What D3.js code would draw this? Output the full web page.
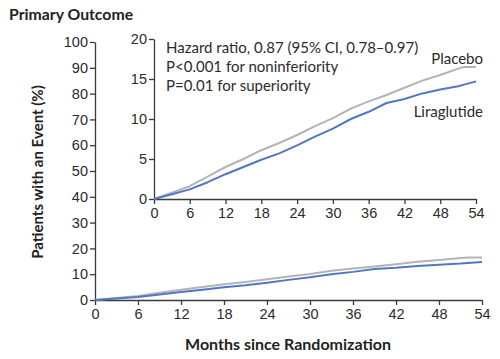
<!DOCTYPE html>
<html>
<head>
<meta charset="utf-8">
<script src="https://cdn.jsdelivr.net/npm/d3@7"></script>
<style>
  body { margin: 0; background: #fff; }
  svg { display: block; font-family: Lato, "Open Sans", sans-serif; }
  .axis path, .axis line { stroke: #3a3a3a; stroke-width: 1.3; }
  .axis text { fill: #2b2b2b; font-size: 14.5px; }
</style>
</head>
<body>
<svg width="500" height="359"></svg>
<script>
// months since randomization
const months = [0, 3, 6, 9, 12, 15, 18, 21, 24, 27, 30, 33, 36, 39, 42, 45, 48, 51, 52, 54];
const placebo = [0, 0.8, 1.6, 2.8, 4.0, 5.0, 6.1, 7.0, 8.0, 9.1, 10.1, 11.3, 12.2, 13.0, 13.9, 14.8, 15.5, 16.3, 16.5, 16.5];
const liraglutide = [0, 0.6, 1.2, 2.1, 3.1, 4.0, 4.9, 5.7, 6.7, 7.8, 8.8, 10.0, 10.9, 12.0, 12.5, 13.2, 13.7, 14.1, 14.3, 14.7];

const xTicks = [0, 6, 12, 18, 24, 30, 36, 42, 48, 54];
const mainYTicks = [0, 10, 20, 30, 40, 50, 60, 70, 80, 90, 100];
const insetYTicks = [0, 5, 10, 15, 20];
const statLines = [
  'Hazard ratio, 0.87 (95% CI, 0.78\u20130.97)',
  'P<0.001 for noninferiority',
  'P=0.01 for superiority'
];

const colors = { placebo: '#b4b4b4', liraglutide: '#5276c6' };

const svg = d3.select('svg');

const series = [
  { name: 'placebo', values: placebo },
  { name: 'liraglutide', values: liraglutide },
];

function drawPanel(g, x, y, yTicks) {
  g.append('g').attr('class', 'axis')
    .attr('transform', `translate(0,${y(0)})`)
    .call(d3.axisBottom(x).tickValues(xTicks).tickSize(5).tickSizeOuter(0).tickPadding(4));
  g.append('g').attr('class', 'axis')
    .attr('transform', `translate(${x(0)},0)`)
    .call(d3.axisLeft(y).tickValues(yTicks).tickSize(5).tickSizeOuter(0).tickPadding(2));

  const line = d3.line()
    .x((d, i) => x(months[i]))
    .y(d => y(d));

  series.forEach(s => {
    g.append('path')
      .datum(s.values)
      .attr('d', line)
      .attr('fill', 'none')
      .attr('stroke', colors[s.name])
      .attr('stroke-width', 2)
      .attr('stroke-linejoin', 'round');
  });
}

// main panel
const xMain = d3.scaleLinear().domain([0, 54]).range([95, 482]);
const yMain = d3.scaleLinear().domain([0, 100]).range([300, 42]);
drawPanel(svg.append('g'), xMain, yMain, mainYTicks);

// inset panel
const xInset = d3.scaleLinear().domain([0, 54]).range([154, 476]);
const yInset = d3.scaleLinear().domain([0, 20]).range([199, 39]);
drawPanel(svg.append('g'), xInset, yInset, insetYTicks);

// text
svg.append('text')
  .attr('x', 9).attr('y', 20)
  .attr('font-weight', 'bold').attr('font-size', 15.8).attr('fill', '#222')
  .text('Primary Outcome');

svg.append('text')
  .attr('x', 288).attr('y', 350)
  .attr('text-anchor', 'middle')
  .attr('font-weight', 'bold').attr('font-size', 16).attr('fill', '#222')
  .text('Months since Randomization');

svg.append('text')
  .attr('transform', 'translate(43,172) rotate(-90)')
  .attr('text-anchor', 'middle')
  .attr('font-weight', 'bold').attr('font-size', 15).attr('fill', '#222')
  .text('Patients with an Event (%)');

svg.append('g').selectAll('text')
  .data(statLines)
  .join('text')
  .attr('x', 166)
  .attr('y', (d, i) => 53 + i * 19)
  .attr('font-size', 15).attr('fill', '#2b2b2b')
  .text(d => d);

svg.append('text')
  .attr('x', 483).attr('y', 64)
  .attr('text-anchor', 'end')
  .attr('font-size', 15).attr('fill', '#2b2b2b')
  .text('Placebo');

svg.append('text')
  .attr('x', 483).attr('y', 117)
  .attr('text-anchor', 'end')
  .attr('font-size', 15).attr('fill', '#2b2b2b')
  .text('Liraglutide');
</script>
</body>
</html>
